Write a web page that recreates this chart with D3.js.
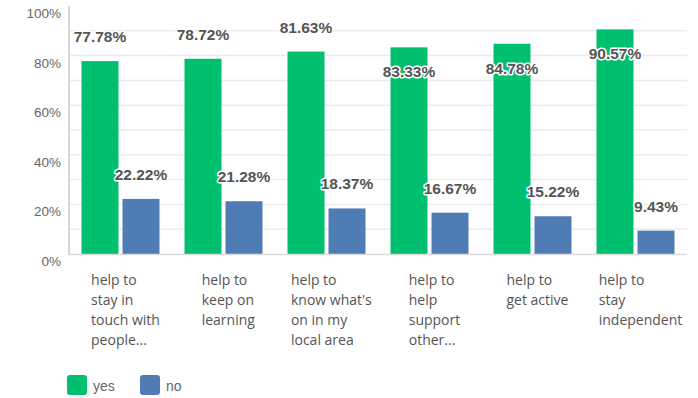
<!DOCTYPE html>
<html>
<head>
<meta charset="utf-8">
<script src="https://cdn.jsdelivr.net/npm/d3@7"></script>
<style>
  html, body { margin: 0; padding: 0; background: #fff; }
  svg { display: block; }
</style>
</head>
<body>
<svg id="chart" width="698" height="398"></svg>
<script>
// Category labels, already broken into display lines
const categories = [
  ["help to", "stay in", "touch with", "people..."],
  ["help to", "keep on", "learning"],
  ["help to", "know what's", "on in my", "local area"],
  ["help to", "help", "support", "other..."],
  ["help to", "get active"],
  ["help to", "stay", "independent"]
];
const seriesNames = ["yes", "no"];
const yesValues = [77.78, 78.72, 81.63, 83.33, 84.78, 90.57];
const noValues  = [22.22, 21.28, 18.37, 16.67, 15.22, 9.43];
const yTicks = [0, 20, 40, 60, 80, 100];
const gridTicks = [10, 20, 30, 40, 50, 60, 70, 80, 90];
const colors = ["#00bf6f", "#507cb6"];

const svg = d3.select("#chart");
const margin = { left: 69, right: 11, top: 6, bottom: 144 };
const W = 698, H = 398;
const plotW = W - margin.left - margin.right;
const y0 = H - margin.bottom;

const x = d3.scaleBand().domain(d3.range(categories.length))
  .range([margin.left, margin.left + plotW]).paddingInner(0).paddingOuter(0);
const xs = d3.scaleBand().domain(seriesNames)
  .range([0, x.bandwidth()]).paddingInner(4 / 41).paddingOuter(25 / 82);
const y = d3.scaleLinear().domain([0, 100]).range([y0, margin.top]);

// gridlines
svg.append("g").selectAll("line").data(gridTicks).join("line")
  .attr("x1", margin.left).attr("x2", margin.left + plotW)
  .attr("y1", d => y(d)).attr("y2", d => y(d))
  .attr("stroke", "#ececec").attr("stroke-width", 1.5);

// y axis labels (sit a little below their gridline)
svg.append("g").selectAll("text").data(yTicks).join("text")
  .attr("x", 61).attr("y", d => y(d) + 12)
  .attr("text-anchor", "end")
  .attr("font-family", "Liberation Sans, Arial, sans-serif")
  .attr("font-size", 13.5).attr("fill", "#666")
  .text(d => d + "%");

// bars
const series = [yesValues, noValues];
const groups = svg.append("g").selectAll("g").data(categories).join("g")
  .attr("transform", (d, i) => `translate(${x(i)},0)`);

groups.selectAll("rect")
  .data((d, i) => seriesNames.map((s, k) => ({ s, k, v: series[k][i] })))
  .join("rect")
  .attr("x", d => xs(d.s)).attr("width", xs.bandwidth())
  .attr("y", d => y(d.v)).attr("height", d => y0 - y(d.v))
  .attr("fill", d => colors[d.k]);

// axes lines
svg.append("line").attr("x1", margin.left).attr("x2", margin.left)
  .attr("y1", margin.top).attr("y2", y0 + 1)
  .attr("stroke", "#d6d6d6").attr("stroke-width", 2);
svg.append("line").attr("x1", margin.left).attr("x2", margin.left + plotW)
  .attr("y1", y0 + 0.5).attr("y2", y0 + 0.5)
  .attr("stroke", "#dcdcdc").attr("stroke-width", 1.5);

// value labels: above the bar, or inside it when there is no room on top
groups.selectAll("text.val")
  .data((d, i) => seriesNames.map((s, k) => ({ s, k, v: series[k][i] })))
  .join("text").attr("class", "val")
  .attr("x", d => xs(d.s) + xs.bandwidth() / 2)
  .attr("y", d => {
    const top = y(d.v);
    return (top - 24 < 26 ? top + 25 : top - 24) + 5;
  })
  .attr("text-anchor", "middle")
  .attr("font-family", "Liberation Sans, Arial, sans-serif")
  .attr("font-weight", "bold").attr("font-size", 15.5)
  .attr("fill", "#555").attr("stroke", "#fff").attr("stroke-width", 3)
  .attr("stroke-linejoin", "round").attr("paint-order", "stroke")
  .text(d => d.v.toFixed(2) + "%");

// category labels: left aligned block centred under each group
const catG = svg.append("g");
categories.forEach((lines, i) => {
  const t = catG.append("text")
    .attr("font-family", "Open Sans, sans-serif")
    .attr("font-size", 14).attr("fill", "#555");
  lines.forEach((ln, j) => {
    t.append("tspan").attr("x", 0).attr("y", 285 + j * 20).text(ln);
  });
  const w = t.node().getBBox().width;
  t.attr("transform", `translate(${x(i) + x.bandwidth() / 2 - w / 2 + 5},0)`);
});

// legend
const leg = svg.append("g").attr("transform", "translate(67,375)");
let lx = 0;
seriesNames.forEach((s, k) => {
  const g = leg.append("g").attr("transform", `translate(${lx},0)`);
  g.append("rect").attr("width", 20).attr("height", 20).attr("rx", 3)
    .attr("fill", colors[k]);
  g.append("text").attr("x", 26).attr("y", 16)
    .attr("font-family", "Liberation Sans, Arial, sans-serif")
    .attr("font-size", 14).attr("fill", "#666").text(s);
  lx += 73;
});
</script>
</body>
</html>
